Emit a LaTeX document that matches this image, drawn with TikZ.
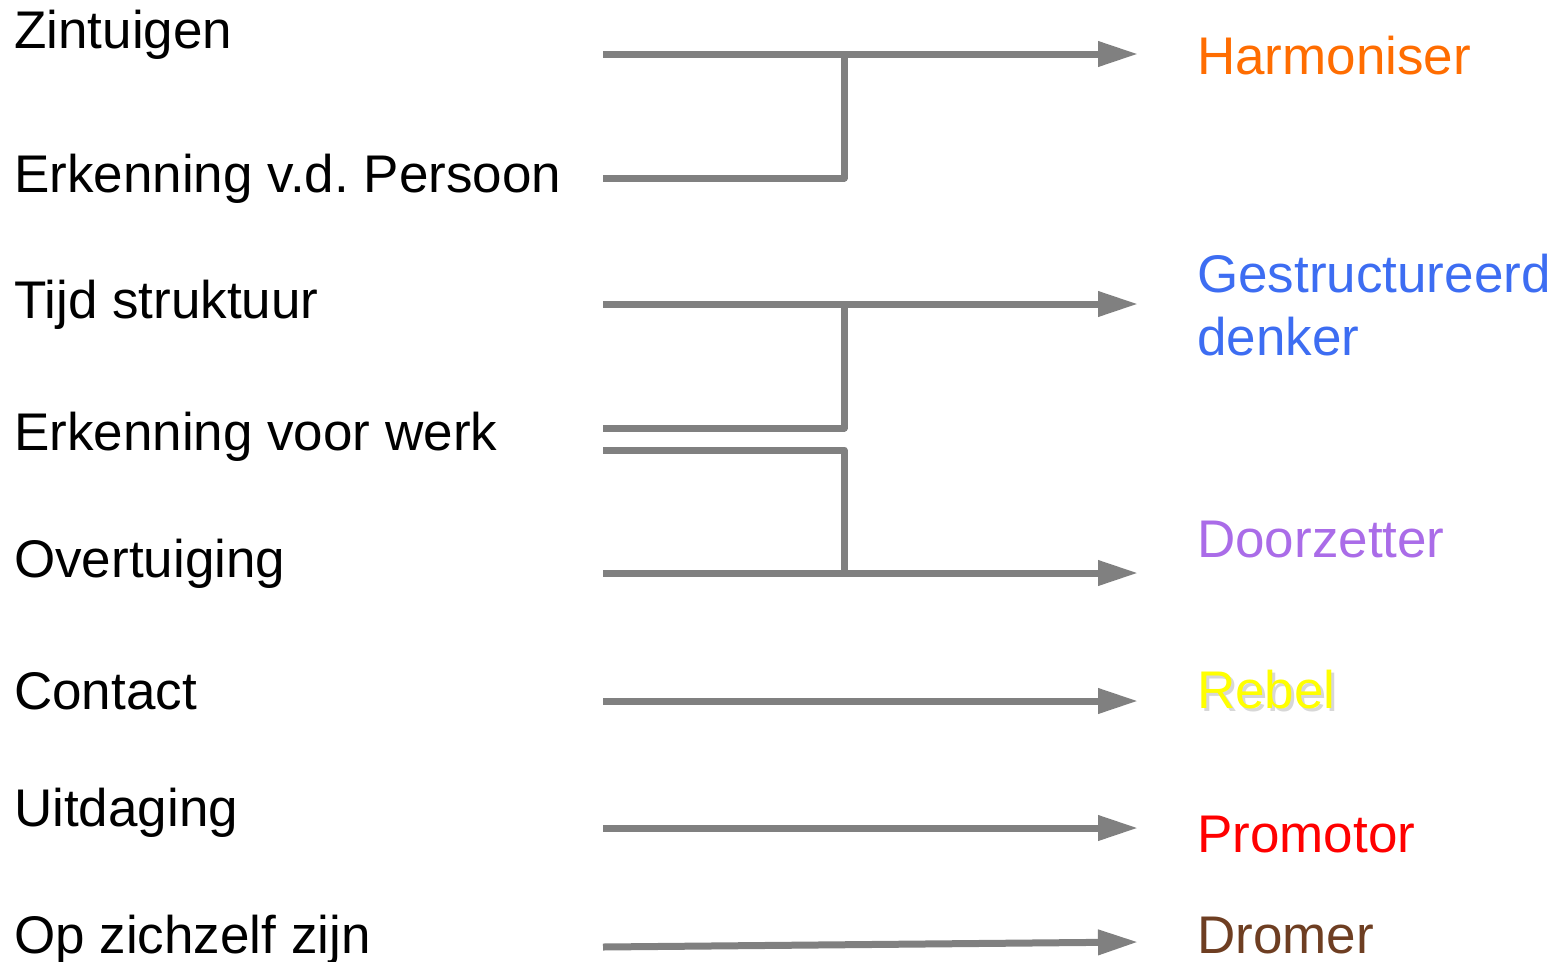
\documentclass[tikz,border=0pt]{standalone}
\usepackage{fontspec}
\setmainfont{Liberation Sans}
\usetikzlibrary{arrows.meta}
\frenchspacing
\definecolor{linegray}{HTML}{808080}
\definecolor{corange}{HTML}{FF6D01}
\definecolor{cblue}{HTML}{3D6DF2}
\definecolor{cpurple}{HTML}{AA6CE8}
\definecolor{cyellow}{HTML}{FFFF00}
\definecolor{cred}{HTML}{FF0000}
\definecolor{cbrown}{HTML}{6E3E22}
\begin{document}
\begin{tikzpicture}[x=1pt,y=-1pt,
  conn/.style={draw=linegray, line width=7pt, line join=round},
  arr/.style={conn,-{Triangle[length=40pt,width=24pt]}},
  lbl/.style={anchor=base west, inner sep=0pt, font=\fontsize{53}{63}\selectfont\frenchspacing, align=left}]
\useasboundingbox (0,0) rectangle (1568,961);
% left labels
\node[lbl] (zin) at (14,48) {Zintuigen};
\node[lbl] (erkp) at (14,192) {Erkenning v.d.\ Persoon};
\node[lbl] (tijd) at (14,318) {Tijd struktuur};
\node[lbl] (erkw) at (14,450) {Erkenning voor werk};
\node[lbl] (over) at (14,577) {Overtuiging};
\node[lbl] (cont) at (14,709) {Contact};
\node[lbl] (uitd) at (14,826) {Uitdaging};
\node[lbl] (opz) at (14,953) {Op zichzelf zijn};
% right labels
\node[lbl, text=corange] (harm) at (1197,74) {Harmoniser};
\node[lbl, text=cblue] (gest) at (1197,355) {Gestructureerd\\denker};
\node[lbl, text=cpurple] (door) at (1197,557) {Doorzetter};
\node[lbl, text=black!35, opacity=0.45] (rebs) at (1200,711) {Rebel};
\node[lbl, text=cyellow] (reb) at (1197,708) {Rebel};
\node[lbl, text=cred] (prom) at (1197,852) {Promotor};
\node[lbl, text=cbrown] (drom) at (1197,953) {Dromer};
% coordinates
\coordinate (s1) at (603,54);   \coordinate (e1) at (1138,54);
\coordinate (s2) at (603,178);  \coordinate (j1) at (844,54);
\coordinate (s3) at (603,304);  \coordinate (e3) at (1138,304);
\coordinate (s4) at (603,428);  \coordinate (j3) at (844,304);
\coordinate (s4b) at (603,450); \coordinate (j5) at (844,573);
\coordinate (s5) at (603,573);  \coordinate (e5) at (1138,573);
\coordinate (s6) at (603,701);  \coordinate (e6) at (1138,701);
\coordinate (s7) at (603,828);  \coordinate (e7) at (1138,828);
\coordinate (s8) at (603,947);  \coordinate (e8) at (1138,942);
% connectors
\draw[arr] (s1) -- (e1);
\draw[conn] (s2) -| (j1);
\draw[arr] (s3) -- (e3);
\draw[conn] (s4) -| (j3);
\draw[conn] (s4b) -| (j5);
\draw[arr] (s5) -- (e5);
\draw[arr] (s6) -- (e6);
\draw[arr] (s7) -- (e7);
\draw[arr] (s8) -- (e8);
\end{tikzpicture}
\end{document}
